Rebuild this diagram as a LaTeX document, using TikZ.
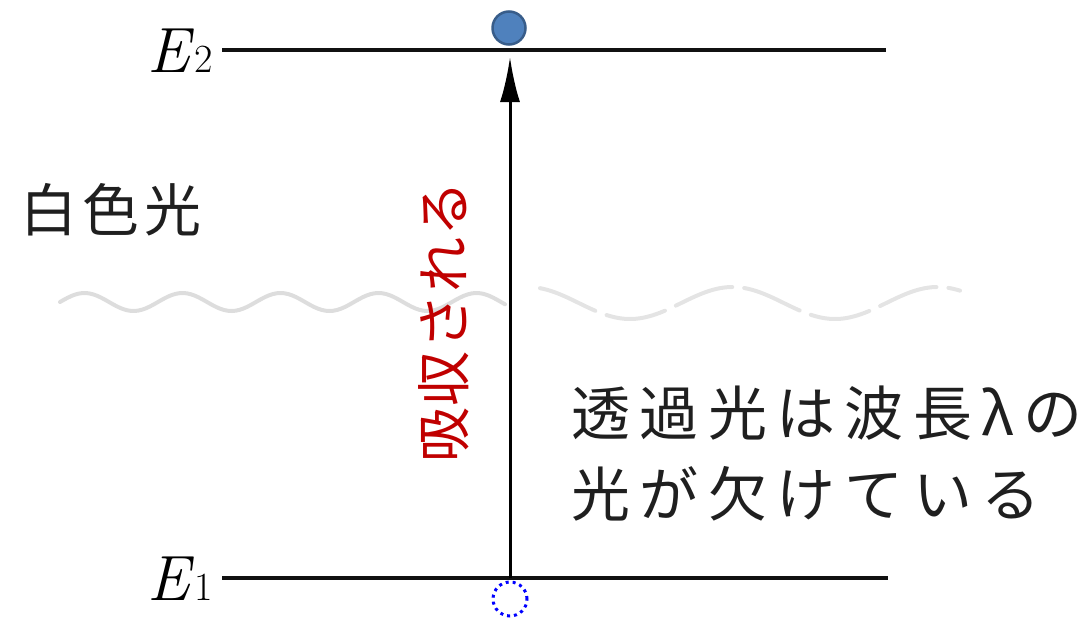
\documentclass[tikz,border=0pt]{standalone}
\usepackage{fontspec}
\newfontfamily\jpfont[LetterSpace=3]{Noto Sans CJK JP}
\newfontfamily\jpspaced[LetterSpace=9]{Noto Sans CJK JP}
\newfontfamily\jpwide[LetterSpace=16]{Noto Sans CJK JP}
\usetikzlibrary{arrows.meta}
\definecolor{lvl}{HTML}{111111}
\definecolor{dotfill}{HTML}{4F81BD}
\definecolor{dotedge}{HTML}{385D8A}
\definecolor{redtxt}{HTML}{C00000}
\definecolor{wavegray}{HTML}{DDDDDD}
\tikzset{
  level/.style={line width=4pt, lvl},
  elabel/.style={anchor=base east, inner sep=0pt, text=black},
  esub/.style={anchor=base west, inner sep=0pt, xshift=4pt, text=black},
  jtext/.style={inner sep=0pt, text=black!88},
}
\begin{document}
\begin{tikzpicture}[x=1pt,y=-1pt]
\useasboundingbox (0,0) rectangle (1091,621);
% wave (white light)
\draw[wavegray, line width=4pt, line cap=round, smooth, domain=60:505, samples=120]
  plot (\x, {302 + 9*sin((\x-60)/98*360 + 180)});
\draw[wavegray!80, line width=4pt, line cap=round, smooth, domain=540:960, samples=120, dash pattern=on 60pt off 12pt]
  plot (\x, {303 + 16*sin((\x-630)/205*360 + 90)});
% levels
\coordinate (e2l) at (222,50);
\coordinate (e2r) at (886,50);
\coordinate (e1l) at (222,578);
\coordinate (e1r) at (888,578);
\draw[level] (e2l) -- (e2r);
\draw[level] (e1l) -- (e1r);
\node[elabel] (E2) at (190,72) {\fontsize{64}{64}\selectfont\itshape E};
\node[esub] (E2s) at (E2.base east) {\fontsize{40}{40}\selectfont 2};
\node[elabel] (E1) at (190,600) {\fontsize{64}{64}\selectfont\itshape E};
\node[esub] (E1s) at (E1.base east) {\fontsize{40}{40}\selectfont 1};
% states
\node[circle, minimum size=33pt, inner sep=0pt, fill=dotfill, draw=dotedge, line width=2.5pt] (up) at (509,28) {};
\node[circle, minimum size=34pt, inner sep=0pt, draw=blue, line width=3pt, dash pattern=on 3pt off 4pt] (down) at (510,599) {};
\coordinate (tail) at (510,578);
\coordinate (head) at (510,57);
\draw[line width=3pt, -{Latex[length=45pt,width=20pt]}] (tail) -- (head);
% texts
\node[jtext] (white) at (111,210) {\jpspaced\fontsize{57}{57}\selectfont 白色光};
\node[rotate=90, inner sep=0pt, text=redtxt] (abs) at (444,322) {\jpfont\fontsize{55}{55}\selectfont 吸収される};
\node[jtext, anchor=west] (t1) at (571,413) {\jpwide\fontsize{59}{59}\selectfont 透過光は波長λの};
\node[jtext, anchor=west] (t2) at (571,494) {\jpwide\fontsize{59}{59}\selectfont 光が欠けている};
\end{tikzpicture}
\end{document}
